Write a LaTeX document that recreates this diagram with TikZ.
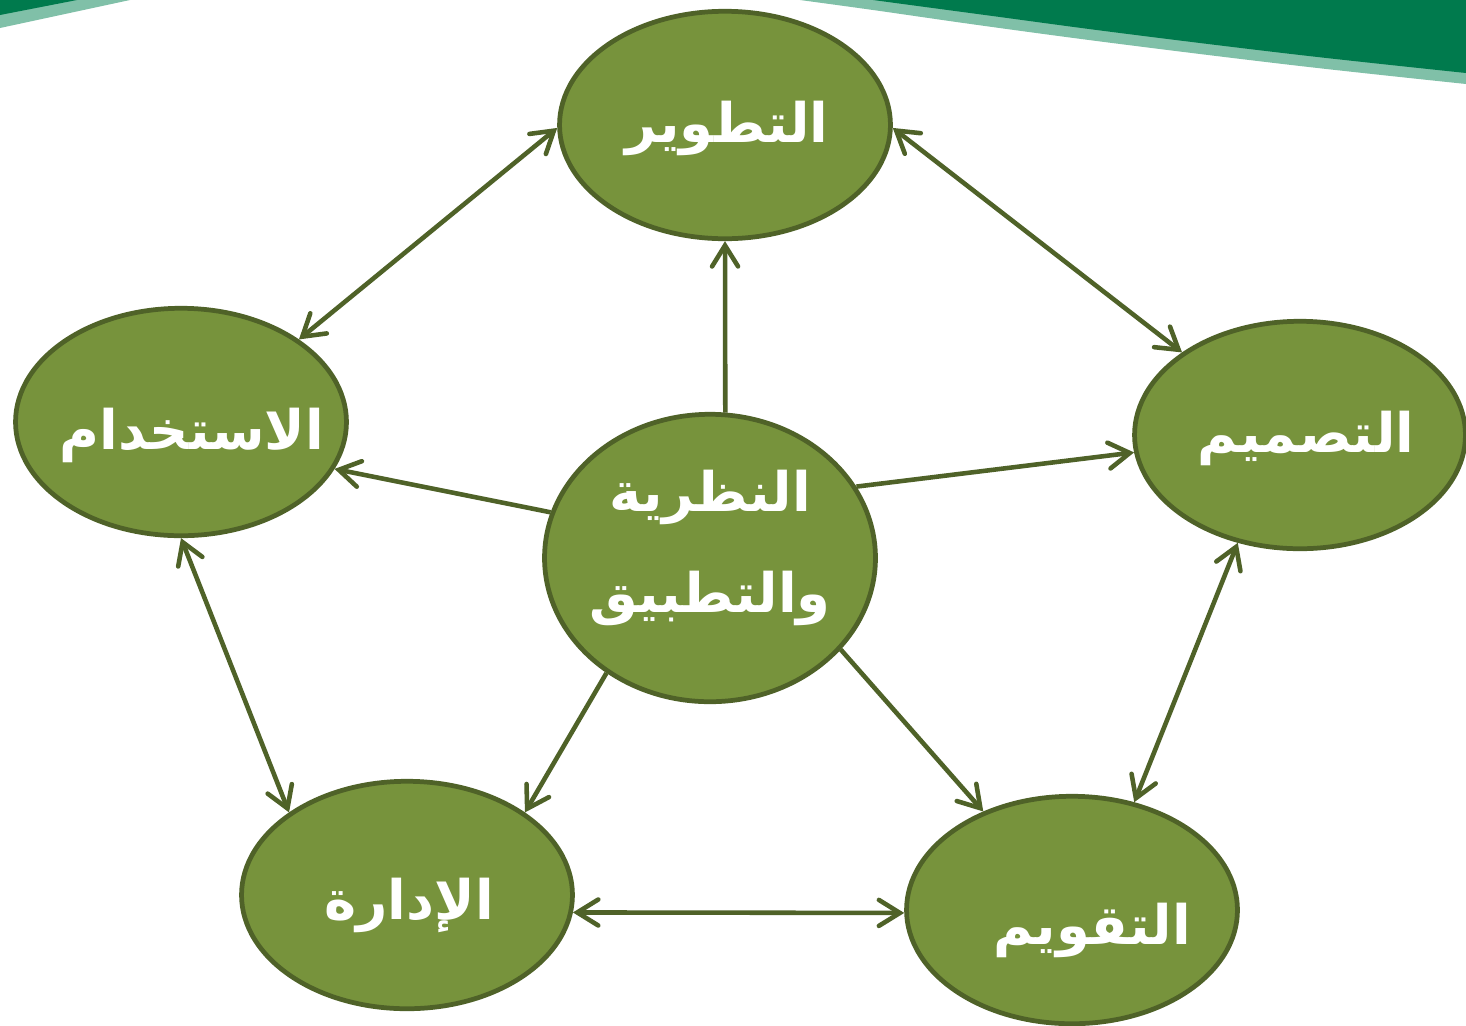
\documentclass[tikz,border=0pt]{standalone}
\usepackage{fontspec}
\usetikzlibrary{shapes.geometric,arrows.meta}
\TeXXeTstate=1
\newfontfamily\arabicfont[Script=Arabic]{DejaVu Sans}
\definecolor{fillgreen}{HTML}{77933C}
\definecolor{edgegreen}{HTML}{4F6228}
\definecolor{bandDark}{HTML}{007A4D}
\definecolor{bandLight}{HTML}{80C0A8}
\tikzset{
  topic/.style={ellipse, draw=edgegreen, fill=fillgreen, line width=2.7pt,
    minimum width=6.62cm, minimum height=4.55cm, inner sep=0pt},
  topictext/.style={text=white, font=\arabicfont\bfseries\fontsize{31}{46}\selectfont,
    align=center, inner sep=0pt},
  barb/.tip={Straight Barb[length=0.42cm, width=0.52cm, line cap=round, line width=2.6pt]},
  link/.style={draw=edgegreen, line width=2.6pt, -barb},
  dlink/.style={draw=edgegreen, line width=2.6pt, barb-barb}
}
\begin{document}
\begin{tikzpicture}[x=0.02cm, y=-0.02cm]
\useasboundingbox (0,0) rectangle (1466,1025);
\fill[white] (0,0) rectangle (1466,1025);
% top bands
\fill[bandLight] (0,0) -- (130,0) -- (0,28) -- cycle;
\fill[bandDark] (0,0) -- (77,0) -- (0,15) -- cycle;
\fill[bandLight] plot[smooth, tension=0.6] coordinates {(800,0) (873,10) (985,26) (1120,44) (1300,66) (1466,84)} -- (1466,0) -- cycle;
\fill[bandDark] plot[smooth, tension=0.6] coordinates {(873,0) (985,15) (1120,33) (1300,55) (1466,73)} -- (1466,0) -- cycle;
% nodes
\node[topic] (dev) at (725,125) {};
\node[topic] (use) at (181,422) {};
\node[topic] (des) at (1300,435) {};
\node[topic, minimum height=5.75cm] (th) at (710,558) {};
\node[topic] (man) at (407,895) {};
\node[topic] (eva) at (1072,910) {};
% texts
\node[topictext] (devt) at (727,128) {\beginR التطوير\endR};
\node[topictext] (uset) at (192,435) {\beginR الاستخدام\endR};
\node[topictext] (dest) at (1306,438) {\beginR التصميم\endR};
\node[topictext] (tht) at (710,548) {\beginR النظرية\endR\\[12pt]\beginR والتطبيق\endR};
\node[topictext] (mant) at (409,905) {\beginR الإدارة\endR};
\node[topictext] (evat) at (1092,930) {\beginR التقويم\endR};
% connectors
\draw[dlink] (dev.181) -- (use.35);
\draw[dlink] (dev.-1) -- (des.145);
\draw[link] (th.84) -- (dev.270);
\draw[link] (th.164) -- (use.-17);
\draw[link] (th.26.6) -- (des.186.7);
\draw[dlink] (use.270) -- (man.145);
\draw[dlink] (des.240) -- (eva.60);
\draw[link] (th.228) -- (man.35);
\draw[link] (th.-35) -- (eva.132);
\draw[dlink] (man.-6.7) -- (eva.181.7);
\end{tikzpicture}
\end{document}
